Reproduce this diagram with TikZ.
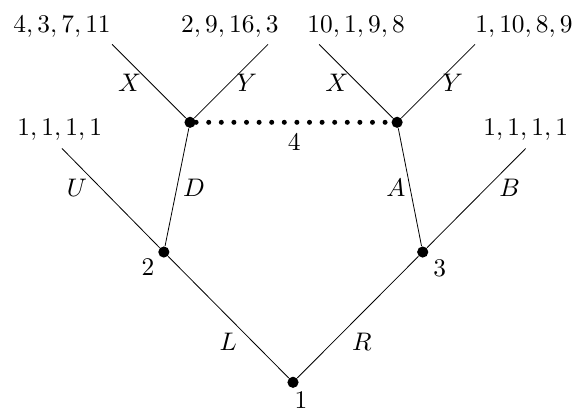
\documentclass[tikz,border=0pt]{standalone}
\begin{document}
\begin{tikzpicture}[every node/.style={scale=1.27}]
    \tikzstyle{dot}=[circle, fill, inner sep=0pt, minimum size=4.4pt];
    \tikzstyle{info}=[line width=2.5pt, line cap=round, dash pattern=on 0pt off 6.3pt];
    \useasboundingbox (0, 0) rectangle (10.30, 7.28);

    \node (n1) at (5.15, 0.56) [dot] {};
    \node (n2) at (2.88, 2.85) [dot] {};
    \node (n3) at (7.43, 2.85) [dot] {};
    \node (n4a) at (3.34, 5.13) [dot] {};
    \node (n4b) at (6.98, 5.13) [dot] {};

    \coordinate (u) at (1.09, 4.67);
    \coordinate (b) at (9.24, 4.67);
    \coordinate (xa) at (1.97, 6.50);
    \coordinate (ya) at (4.71, 6.50);
    \coordinate (xb) at (5.61, 6.50);
    \coordinate (yb) at (8.35, 6.50);

    \draw (n1) -- (n2);
    \draw (n1) -- (n3);
    \draw (n2) -- (u);
    \draw (n2) -- (n4a);
    \draw (n3) -- (b);
    \draw (n3) -- (n4b);
    \draw (n4a) -- (xa);
    \draw (n4a) -- (ya);
    \draw (n4b) -- (xb);
    \draw (n4b) -- (yb);
    \draw[info] (n4a.east) -- (n4b.west);

    % payoffs
    \node (pxa) at (1.09, 6.71) [anchor=base] {$4, 3, 7, 11$};
    \node (pya) at (4.04, 6.71) [anchor=base] {$2, 9, 16, 3$};
    \node (pxb) at (6.26, 6.71) [anchor=base] {$10, 1, 9, 8$};
    \node (pyb) at (9.21, 6.71) [anchor=base] {$1, 10, 8, 9$};
    \node (pu) at (1.05, 4.90) [anchor=base] {$1, 1, 1, 1$};
    \node (pb) at (9.24, 4.90) [anchor=base] {$1, 1, 1, 1$};

    % moves
    \node (lL) at (4.01, 1.27) {$L$};
    \node (lR) at (6.36, 1.27) {$R$};
    \node (lU) at (1.35, 3.97) {$U$};
    \node (lD) at (3.41, 3.97) {$D$};
    \node (lA) at (6.96, 3.97) {$A$};
    \node (lB) at (8.96, 3.97) {$B$};
    \node (lXa) at (2.28, 5.82) {$X$};
    \node (lYa) at (4.34, 5.82) {$Y$};
    \node (lXb) at (5.92, 5.82) {$X$};
    \node (lYb) at (7.96, 5.82) {$Y$};

    % players
    \node (p1) at (5.29, 0.25) {$1$};
    \node (p2) at (2.60, 2.58) {$2$};
    \node (p3) at (7.73, 2.57) {$3$};
    \node (p4) at (5.17, 4.78) {$4$};

\end{tikzpicture}
\end{document}
